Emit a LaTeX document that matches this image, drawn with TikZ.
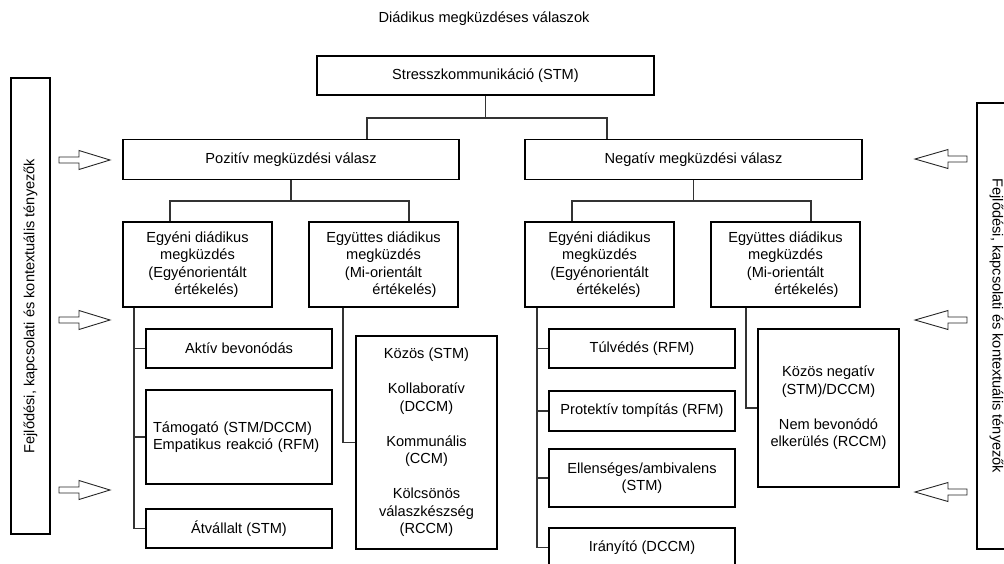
\documentclass[tikz,border=0pt]{standalone}
\usepackage{fontspec}
\setmainfont{Liberation Sans}
\begin{document}
\begin{tikzpicture}[x=1pt,y=-1pt,
  every node/.style={font=\fontsize{14.6}{17.5}\selectfont},
  box/.style={draw=black, line width=1.1pt, inner sep=0pt, align=center},
  link/.style={draw=black!80, line width=1.1pt},
  hollow/.style={draw=black!85, line width=0.9pt, line join=miter},
  toright/.pic={\path[hollow] (0,-3) -- (20,-3) -- (20,-9.5) -- (51,0) -- (20,9.5) -- (20,3) -- (0,3) -- cycle;},
  toleft/.pic={\path[hollow] (0,-3) -- (-19,-3) -- (-19,-9.5) -- (-52,0) -- (-19,9.5) -- (-19,3) -- (0,3) -- cycle;}
]
\useasboundingbox (0,0) rectangle (1004,563);

% heading
\node (title) at (484,19) {Diádikus megküzdéses válaszok};

% top levels
\node[box, minimum width=337pt, minimum height=39pt] (stm) at (485.5,75.5) {Stresszkommunikáció (STM)};
\node[box, minimum width=336pt, minimum height=40pt] (pos) at (291,159.5) {Pozitív megküzdési válasz};
\node[box, minimum width=337pt, minimum height=40pt] (neg) at (693.5,159.5) {Negatív megküzdési válasz};

\coordinate (barL) at (367,118);
\coordinate (barR) at (607,118);
\draw[link] (stm.south) -- (stm.south |- barL);
\draw[link] (barL |- pos.north) -- (barL) -- (barR) -- (barR |- neg.north);

% second level, positive branch
\node[box, minimum width=149pt, minimum height=85pt] (pe) at (197.5,264.5)
  {Egyéni diádikus\\megküzdés\\(Egyénorientált\\\hspace*{18pt}értékelés)};
\node[box, minimum width=149pt, minimum height=85pt] (pm) at (383.5,264.5)
  {Együttes diádikus\\megküzdés\\(Mi-orientált\\\hspace*{42pt}értékelés)};
\coordinate (pbL) at (170,201);
\coordinate (pbR) at (409,201);
\draw[link] (pos.south) -- (pos.south |- pbL);
\draw[link] (pbL |- pe.north) -- (pbL) -- (pbR) -- (pbR |- pm.north);

% second level, negative branch
\node[box, minimum width=149pt, minimum height=85pt] (ne) at (599.5,264.5)
  {Egyéni diádikus\\megküzdés\\(Egyénorientált\\\hspace*{18pt}értékelés)};
\node[box, minimum width=149pt, minimum height=85pt] (nm) at (785.5,264.5)
  {Együttes diádikus\\megküzdés\\(Mi-orientált\\\hspace*{42pt}értékelés)};
\coordinate (nbL) at (572,201);
\coordinate (nbR) at (811,201);
\draw[link] (neg.south) -- (neg.south |- nbL);
\draw[link] (nbL |- ne.north) -- (nbL) -- (nbR) -- (nbR |- nm.north);

% positive, individual forms
\node[box, minimum width=186pt, minimum height=39pt] (aktiv) at (239,348.5) {Aktív bevonódás};
\node[box, minimum height=94pt, text width=172pt, inner xsep=7pt, align=left] (tamog) at (239,437)
  {Támogató (STM/DCCM)\\Empatikus reakció (RFM)};
\node[box, minimum width=186pt, minimum height=39pt] (atv) at (239,528.5) {Átvállalt (STM)};
\coordinate (pl) at (134,307);
\draw[link] (pl |- pe.south) -- (pl |- atv.west) -- (atv.west);
\draw[link] (pl |- aktiv.west) -- (aktiv.west);
\draw[link] (pl |- tamog.west) -- (tamog.west);

% positive, common forms
\node[box, minimum width=141pt, minimum height=213pt] (kozos) at (426.5,442.5)
  {Közös (STM)\\[17.5pt]Kollaboratív\\(DCCM)\\[17.5pt]Kommunális\\(CCM)\\[17.5pt]Kölcsönös\\válaszkészség\\(RCCM)};
\coordinate (pc) at (343,307);
\draw[link] (pc |- pm.south) -- (pc |- kozos.west) -- (kozos.west);

% negative, individual forms
\node[box, minimum width=186pt, minimum height=39pt] (tulv) at (642,348.5) {Túlvédés (RFM)};
\node[box, minimum width=186pt, minimum height=40pt] (prot) at (642,411) {Protektív tompítás (RFM)};
\node[box, minimum width=186pt, minimum height=58pt] (ellen) at (642,478) {Ellenséges/ambivalens\\(STM)};
\node[box, minimum width=186pt, minimum height=39pt] (iran) at (642,547.5) {Irányító (DCCM)};
\coordinate (nl) at (537,307);
\draw[link] (nl |- ne.south) -- (nl |- iran.west) -- (iran.west);
\draw[link] (nl |- tulv.west) -- (tulv.west);
\draw[link] (nl |- prot.west) -- (prot.west);
\draw[link] (nl |- ellen.west) -- (ellen.west);

% negative, common forms
\node[box, minimum width=141pt, minimum height=158pt] (kneg) at (828.5,408)
  {Közös negatív\\(STM)/DCCM)\\[17.5pt]Nem bevonódó\\elkerülés (RCCM)};
\coordinate (nc) at (746,307);
\draw[link] (nc |- nm.south) -- (nc |- kneg.west) -- (kneg.west);

% context factors at both sides
\node[box, rotate=90, minimum width=456pt, minimum height=39pt] (ctxL) at (30.5,306)
  {Fejlődési, kapcsolati és kontextuális tényezők};
\node[box, rotate=-90, minimum width=446pt, minimum height=39pt] (ctxR) at (996.5,326)
  {Fejlődési, kapcsolati és kontextuális tényezők};

% influence arrows
\pic at (59,160) {toright};
\pic at (59,320) {toright};
\pic at (59,490) {toright};
\pic at (967,159) {toleft};
\pic at (967,320) {toleft};
\pic at (967,492) {toleft};
\end{tikzpicture}
\end{document}
